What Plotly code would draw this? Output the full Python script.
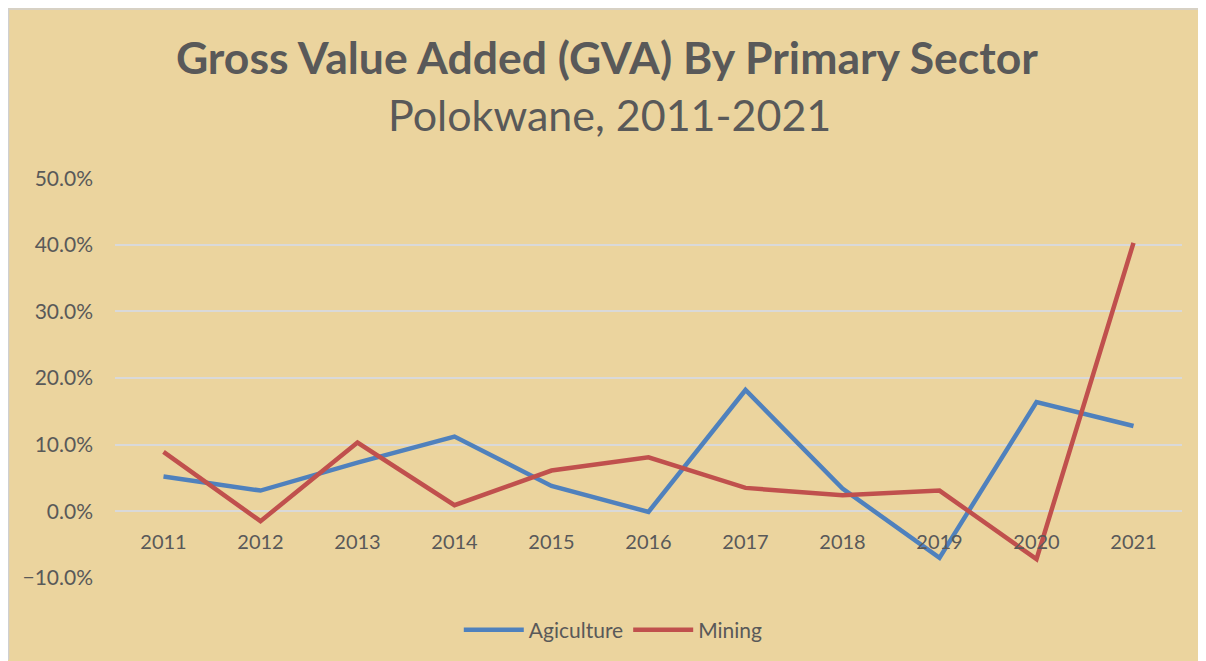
import plotly.graph_objects as go

years = ["2011", "2012", "2013", "2014", "2015", "2016", "2017", "2018", "2019", "2020", "2021"]
agriculture = [0.052, 0.031, 0.073, 0.112, 0.038, -0.001, 0.182, 0.034, -0.070, 0.164, 0.128]
mining = [0.089, -0.015, 0.103, 0.009, 0.061, 0.081, 0.035, 0.024, 0.031, -0.072, 0.403]
y_ticks = [-0.1, 0.0, 0.1, 0.2, 0.3, 0.4, 0.5]

FONT = "Lato"
TXT = "#595959"
BG = "#EBD49E"

fig = go.Figure()
fig.add_trace(go.Scatter(x=years, y=agriculture, mode="lines", name="Agiculture",
                         line=dict(color="#4F81BD", width=4.5)))
fig.add_trace(go.Scatter(x=years, y=mining, mode="lines", name="Mining",
                         line=dict(color="#C0504D", width=4.5)))

# figure is placed at (8, 8) in the page
W, H = 1198, 653
L, R, T, B = 107, 24, 170, 82
pw = W - L - R
ph = H - T - B

def px_x(p):
    return (p - L) / pw

def px_y(p):
    return (H - B - p) / ph

ymin, ymax = -0.1003, 0.5003

# light grey frame edges on the left and top
fig.add_shape(type="line", xref="paper", yref="paper", layer="below",
              x0=px_x(0.5), x1=px_x(0.5), y0=px_y(H), y1=px_y(0),
              line=dict(color="#D0D0D0", width=1.5))
fig.add_shape(type="line", xref="paper", yref="paper", layer="below",
              x0=px_x(0), x1=px_x(W), y0=px_y(0.5), y1=px_y(0.5),
              line=dict(color="#D0D0D0", width=1.5))

fig.update_layout(
    width=W, height=H,
    margin=dict(l=L, r=R, t=T, b=B),
    paper_bgcolor=BG,
    plot_bgcolor="rgba(0,0,0,0)",
    font=dict(family=FONT, color=TXT, size=20),
    title=dict(text="<b>Gross Value Added (GVA) By Primary Sector</b>",
               x=0.461, xref="paper", xanchor="center",
               y=1 - 50 / H, yref="container", yanchor="middle",
               font=dict(family=FONT, size=44.5, color=TXT)),
    showlegend=True,
    legend=dict(orientation="h", x=0.467, xanchor="center", y=px_y(622), yanchor="middle",
                font=dict(family=FONT, size=21, color=TXT), bgcolor="rgba(0,0,0,0)",
                itemwidth=60, tracegroupgap=0),
    xaxis=dict(type="category", range=[-0.5, 10.5], anchor="free",
               position=(0 - ymin) / (ymax - ymin), showgrid=False,
               showline=False, zeroline=False, ticks="", ticklabelstandoff=17,
               tickfont=dict(family=FONT, size=20, color=TXT)),
    yaxis=dict(range=[ymin, ymax], tickvals=y_ticks, tickformat=".1%",
               showgrid=True, gridcolor="#D9D9D9", gridwidth=1.5,
               zeroline=True, zerolinecolor="#D9D9D9", zerolinewidth=1.5,
               showline=False, ticks="", ticklabelstandoff=21,
               tickfont=dict(family=FONT, size=21, color=TXT)),
)

fig.add_annotation(text="Polokwane, 2011-2021", xref="paper", yref="paper",
                   x=0.463, y=px_y(106), xanchor="center", yanchor="middle",
                   showarrow=False, font=dict(family=FONT, size=43, color=TXT))

fig.write_html("out.html")
